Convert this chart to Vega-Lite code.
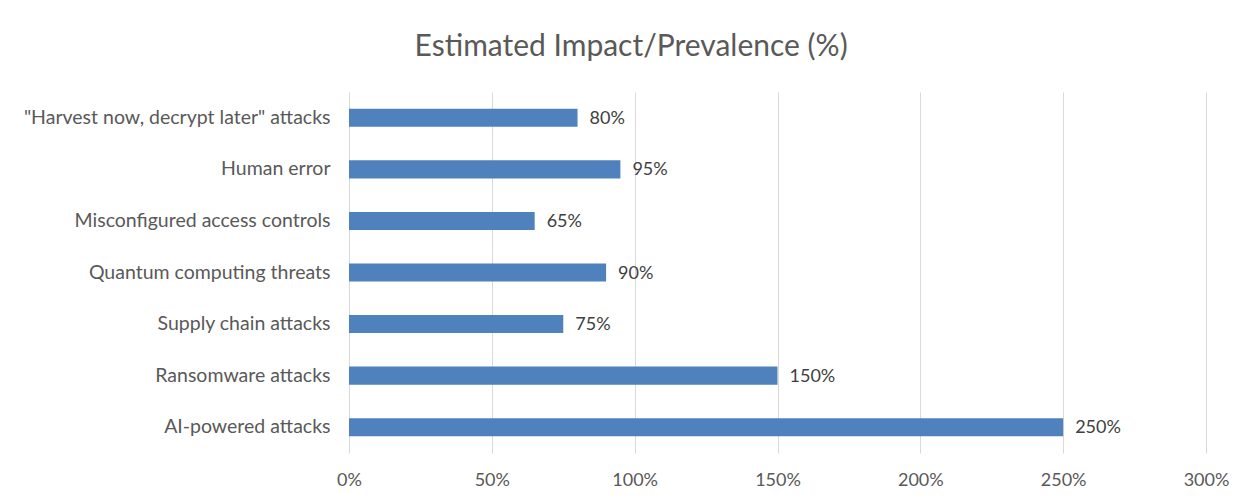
{
  "$schema": "https://vega.github.io/schema/vega-lite/v6.json",
  "width": 857,
  "height": 361,
  "autosize": {"type": "none"},
  "padding": {"left": 349, "top": 92, "right": 46, "bottom": 51},
  "background": "white",
  "config": {"view": {"stroke": null}, "font": "Lato"},
  "title": {
    "text": "Estimated Impact/Prevalence (%)",
    "fontSize": 30,
    "font": "Lato",
    "fontWeight": "normal",
    "color": "#595959",
    "anchor": "middle",
    "frame": "bounds",
    "offset": 30,
    "dx": 5
  },
  "data": {
    "values": [
      {"threat": "\"Harvest now, decrypt later\" attacks", "value": 0.80},
      {"threat": "Human error", "value": 0.95},
      {"threat": "Misconfigured access controls", "value": 0.65},
      {"threat": "Quantum computing threats", "value": 0.90},
      {"threat": "Supply chain attacks", "value": 0.75},
      {"threat": "Ransomware attacks", "value": 1.50},
      {"threat": "AI-powered attacks", "value": 2.50}
    ]
  },
  "encoding": {
    "y": {
      "field": "threat",
      "type": "nominal",
      "sort": null,
      "scale": {"paddingInner": 0.65, "paddingOuter": 0.325},
      "axis": {
        "title": null,
        "domain": false,
        "ticks": false,
        "labelFontSize": 19.5,
        "labelColor": "#595959",
        "labelPadding": 19,
        "labelLimit": 400
      }
    },
    "x": {
      "field": "value",
      "type": "quantitative",
      "scale": {"domain": [0, 3], "nice": false},
      "axis": {
        "title": null,
        "values": [0, 0.5, 1, 1.5, 2, 2.5, 3],
        "format": ".0%",
        "domain": false,
        "ticks": false,
        "grid": true,
        "gridColor": "#d9d9d9",
        "gridWidth": 1,
        "labelFontSize": 18,
        "labelColor": "#595959",
        "labelPadding": 18,
        "labelFlush": false
      }
    }
  },
  "layer": [
    {"mark": {"type": "bar", "color": "#4f81bd"}},
    {
      "mark": {"type": "text", "align": "left", "baseline": "middle", "dx": 12, "dy": 1, "fontSize": 18, "color": "#404040"},
      "encoding": {"text": {"field": "value", "type": "quantitative", "format": ".0%"}}
    }
  ]
}
